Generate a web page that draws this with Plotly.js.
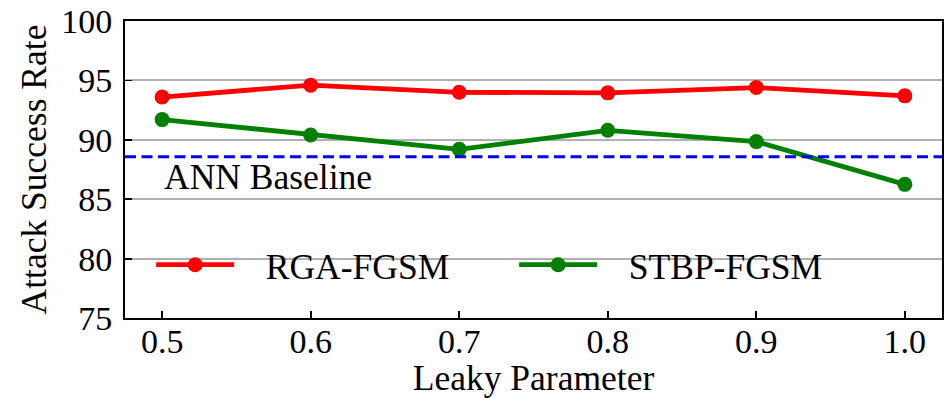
<!DOCTYPE html>
<html><head><meta charset="utf-8">
<script src="https://cdn.plot.ly/plotly-3.0.1.min.js"></script>
<style>html,body{margin:0;padding:0;background:#fff}#c{width:945px;height:398px}</style>
</head><body><div id="c"></div>
<script>
const leaky = [0.5, 0.6, 0.7, 0.8, 0.9, 1.0];
const rgaFgsm = [93.6, 94.6, 94.0, 93.95, 94.4, 93.7];
const stbpFgsm = [91.7, 90.4, 89.2, 90.8, 89.85, 86.25];
const annBaseline = 88.57;
const xTicks = [0.5, 0.6, 0.7, 0.8, 0.9, 1.0];
const xTickText = ['0.5', '0.6', '0.7', '0.8', '0.9', '1.0'];
const yTicks = [75, 80, 85, 90, 95, 100];

const font = 'Liberation Serif';
const pad = '\u00a0\u00a0\u00a0';
const traces = [
  {x: leaky, y: rgaFgsm, name: pad + 'RGA-FGSM', mode: 'lines+markers',
   line: {color: '#ff0000', width: 4.8}, marker: {color: '#ff0000', size: 15}},
  {x: leaky, y: stbpFgsm, name: pad + 'STBP-FGSM', mode: 'lines+markers',
   line: {color: '#008000', width: 4.8}, marker: {color: '#008000', size: 15}}
];
const layout = {
  width: 945, height: 398,
  margin: {l: 125, r: 3, t: 21, b: 80},
  paper_bgcolor: '#fff', plot_bgcolor: '#fff',
  font: {family: font, size: 34, color: '#000'},
  showlegend: true,
  legend: {orientation: 'h', x: 0.032, y: 0.178, xanchor: 'left', yanchor: 'middle',
           bgcolor: 'rgba(0,0,0,0)', font: {family: font, size: 35.5}, itemwidth: 78,
           entrywidth: 270},
  xaxis: {range: [0.475, 1.025], tickvals: xTicks, ticktext: xTickText,
          ticks: 'inside', ticklen: 7, tickwidth: 1.8, tickcolor: '#000',
          showline: true, linecolor: '#000', linewidth: 2, mirror: true,
          showgrid: false, zeroline: false, tickfont: {family: font, size: 34},
          ticklabelstandoff: -8,
          title: {text: 'Leaky Parameter', font: {family: font, size: 35.5}, standoff: 2}},
  yaxis: {range: [75, 100], tickvals: yTicks,
          ticks: 'inside', ticklen: 7, tickwidth: 1.8, tickcolor: '#000',
          showline: true, linecolor: '#000', linewidth: 2, mirror: true,
          showgrid: true, gridcolor: '#b0b0b0', gridwidth: 2, zeroline: false,
          tickfont: {family: font, size: 34}, ticklabelstandoff: 4,
          title: {text: 'Attack Success Rate', font: {family: font, size: 35.5}, standoff: 4}},
  shapes: [{type: 'line', xref: 'paper', x0: 0, x1: 1, yref: 'y', y0: annBaseline, y1: annBaseline,
            line: {color: '#0000ff', width: 3, dash: '11px,5.5px'}}],
  annotations: [{xref: 'x', x: 0.5, xanchor: 'left', yref: 'y', y: 86.87, yanchor: 'middle',
                 text: 'ANN Baseline', showarrow: false, font: {family: font, size: 35.5, color: '#000'}}]
};
Plotly.newPlot('c', traces, layout, {displayModeBar: false, staticPlot: true});
</script></body></html>
